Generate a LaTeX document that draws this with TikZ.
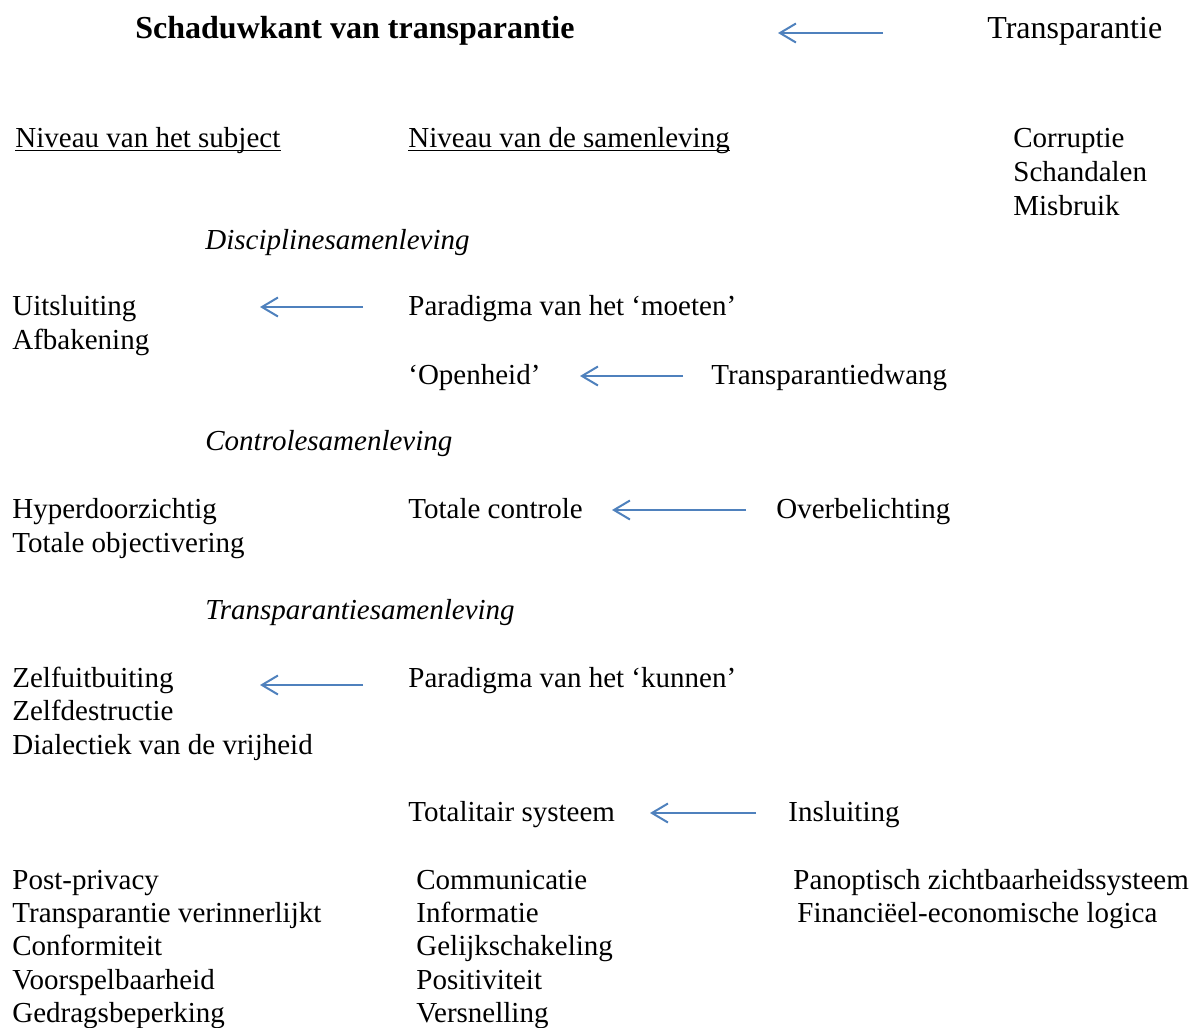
\documentclass[tikz,border=0pt]{standalone}
\usepackage{fontspec}
\setmainfont{Liberation Serif}
\usetikzlibrary{arrows.meta}
\definecolor{pijlblauw}{RGB}{79,129,189}

\begin{document}
\begin{tikzpicture}[x=0.5pt, y=-0.5pt,
    txt/.style={anchor=base west, inner sep=0pt, font=\fontsize{14.5}{17}\selectfont},
    kop/.style={txt, font=\fontsize{16}{19}\selectfont\bfseries},
    koptxt/.style={txt, font=\fontsize{16}{19}\selectfont},
    tijdperk/.style={txt, font=\fontsize{14.5}{17}\selectfont\itshape},
    onderlijn/.style={line width=0.6pt},
    pijl/.style={draw=pijlblauw, line width=1pt, -{Straight Barb[length=8pt, width=9.5pt]}}]
    \useasboundingbox (0,0) rectangle (1201,1028);

    % kop
    \node[kop] (title) at (135,39) {Schaduwkant van transparantie};
    \node[koptxt] (transp) at (987,39) {Transparantie};
    \coordinate (p1a) at (883,33);
    \coordinate (p1b) at (778,33);
    \draw[pijl] (p1a) -- (p1b);

    % niveaus
    \node[txt] (subj) at (15,147) {Niveau van het subject};
    \node[txt] (samen) at (408,147) {Niveau van de samenleving};
    \draw[onderlijn] ([yshift=-1.6pt]subj.base west) -- ([yshift=-1.6pt]subj.base east);
    \draw[onderlijn] ([yshift=-1.6pt]samen.base west) -- ([yshift=-1.6pt]samen.base east);
    \node[txt] (corrupt) at (1013,147) {Corruptie};
    \node[txt] (schand) at (1013,181) {Schandalen};
    \node[txt] (misbr) at (1013,215) {Misbruik};

    % disciplinesamenleving
    \node[tijdperk] (discipl) at (205,249) {Disciplinesamenleving};
    \node[txt] (uitsl) at (12,315) {Uitsluiting};
    \node[txt] (afbak) at (12,349) {Afbakening};
    \node[txt] (moeten) at (408,315) {Paradigma van het ‘moeten’};
    \coordinate (p2a) at (363,307);
    \coordinate (p2b) at (260,307);
    \draw[pijl] (p2a) -- (p2b);
    \node[txt] (openh) at (408,384) {‘Openheid’};
    \node[txt] (tdwang) at (711,384) {Transparantiedwang};
    \coordinate (p3a) at (683,376);
    \coordinate (p3b) at (580,376);
    \draw[pijl] (p3a) -- (p3b);

    % controlesamenleving
    \node[tijdperk] (controle) at (205,450) {Controlesamenleving};
    \node[txt] (hyper) at (12,518) {Hyperdoorzichtig};
    \node[txt] (objec) at (12,552) {Totale objectivering};
    \node[txt] (totcon) at (408,518) {Totale controle};
    \node[txt] (overbel) at (776,518) {Overbelichting};
    \coordinate (p4a) at (746,510);
    \coordinate (p4b) at (612,510);
    \draw[pijl] (p4a) -- (p4b);

    % transparantiesamenleving
    \node[tijdperk] (transam) at (205,619) {Transparantiesamenleving};
    \node[txt] (zelfuit) at (12,687) {Zelfuitbuiting};
    \node[txt] (zelfdes) at (12,720) {Zelfdestructie};
    \node[txt] (dialect) at (12,754) {Dialectiek van de vrijheid};
    \node[txt] (kunnen) at (408,687) {Paradigma van het ‘kunnen’};
    \coordinate (p5a) at (363,685);
    \coordinate (p5b) at (260,685);
    \draw[pijl] (p5a) -- (p5b);
    \node[txt] (totsys) at (408,821) {Totalitair systeem};
    \node[txt] (insluit) at (788,821) {Insluiting};
    \coordinate (p6a) at (756,813);
    \coordinate (p6b) at (650,813);
    \draw[pijl] (p6a) -- (p6b);

    % onderste lijsten
    \node[txt] (post) at (12,889) {Post-privacy};
    \node[txt] (verinn) at (12,922) {Transparantie verinnerlijkt};
    \node[txt] (conform) at (12,955) {Conformiteit};
    \node[txt] (voorsp) at (12,989) {Voorspelbaarheid};
    \node[txt] (gedrag) at (12,1022) {Gedragsbeperking};
    \node[txt] (comm) at (416,889) {Communicatie};
    \node[txt] (info) at (416,922) {Informatie};
    \node[txt] (gelijk) at (416,955) {Gelijkschakeling};
    \node[txt] (posit) at (416,989) {Positiviteit};
    \node[txt] (versn) at (416,1022) {Versnelling};
    \node[txt] (panopt) at (793,889) {Panoptisch zichtbaarheidssysteem};
    \node[txt] (financ) at (797,922) {Financiëel-economische logica};
\end{tikzpicture}
\end{document}
